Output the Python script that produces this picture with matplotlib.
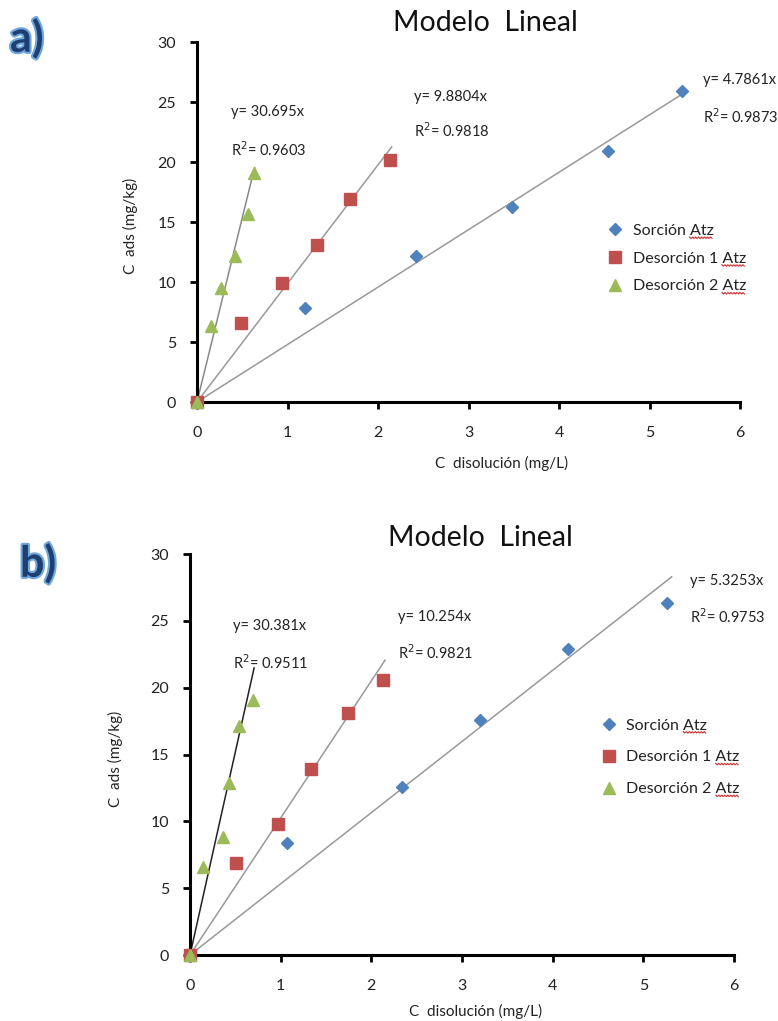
import numpy as np
import matplotlib
matplotlib.use("Agg")
import matplotlib.pyplot as plt
import matplotlib.patheffects as pe
from matplotlib.lines import Line2D

plt.rcParams['font.family'] = ['Lato', 'DejaVu Sans']

# ---- data -------------------------------------------------------------
series_names = ["Sorción Atz", "Desorción 1 Atz", "Desorción 2 Atz"]

# panel a
a_sor_x = [0.0, 1.19, 2.42, 3.48, 4.54, 5.36]
a_sor_y = [0.0, 7.8, 12.2, 16.25, 20.9, 25.9]
a_des1_x = [0.0, 0.49, 0.94, 1.33, 1.69, 2.13]
a_des1_y = [0.0, 6.6, 9.9, 13.1, 16.9, 20.2]
a_des2_x = [0.0, 0.155, 0.265, 0.42, 0.56, 0.63]
a_des2_y = [0.0, 6.3, 9.5, 12.2, 15.7, 19.1]
a_slopes = [4.7861, 9.8804, 30.695]
a_r2 = ["0.9873", "0.9818", "0.9603"]

# panel b
b_sor_x = [0.0, 1.07, 2.34, 3.20, 4.17, 5.26]
b_sor_y = [0.0, 8.4, 12.6, 17.6, 22.9, 26.3]
b_des1_x = [0.0, 0.51, 0.97, 1.34, 1.74, 2.13]
b_des1_y = [0.0, 6.9, 9.8, 13.9, 18.1, 20.6]
b_des2_x = [0.0, 0.145, 0.36, 0.43, 0.54, 0.70]
b_des2_y = [0.0, 6.6, 8.8, 12.9, 17.1, 19.1]
b_slopes = [5.3253, 10.254, 30.381]
b_r2 = ["0.9753", "0.9821", "0.9511"]

x_ticks = [0, 1, 2, 3, 4, 5, 6]
y_ticks = [0, 5, 10, 15, 20, 25, 30]

# ---- styling ----------------------------------------------------------
colors = ["#4f81bd", "#c0504d", "#9bbb59"]
markers = ["D", "s", "^"]
msizes = [6.5, 8.5, 8.5]
txt_color = "#222222"

W, H = 778, 1021
fig = plt.figure(figsize=(W / 100, H / 100), dpi=100)


def px_axes(left, right, top, bottom):
    return fig.add_axes([left / W, 1 - bottom / H, (right - left) / W, (bottom - top) / H])


def draw_panel(ax, xs, ys, slopes, r2, line_colors, eq_pos, legend_anchor, spacing):
    for i in range(3):
        x = np.asarray(xs[i])
        xe = np.array([0.0, x.max() * 1.01])
        ax.plot(xe, slopes[i] * xe, color=line_colors[i], lw=1.1, zorder=2)
    for i in range(3):
        ax.plot(xs[i], ys[i], linestyle="none", marker=markers[i], ms=msizes[i],
                color=colors[i], mec=colors[i], clip_on=False, zorder=3,
                label=series_names[i])
    for i in range(3):
        ex, ey, ry = eq_pos[i]
        ax.text(ex, ey, f"y= {slopes[i]}x", fontsize=10.5, va="center", ha="left", color=txt_color)
        ax.text(ex, ry, f"R$^2$= {r2[i]}", fontsize=10.5, va="center", ha="left", color=txt_color)

    ax.set_xlim(0, 6)
    ax.set_ylim(0, 30)
    ax.set_xticks(x_ticks)
    ax.set_yticks(y_ticks)
    for s in ["top", "right"]:
        ax.spines[s].set_visible(False)
    for s in ["left", "bottom"]:
        ax.spines[s].set_linewidth(2.2)
        ax.spines[s].set_color("black")
    ax.tick_params(axis="both", direction="out", length=5, width=2, labelsize=11.5,
                   labelcolor=txt_color)
    ax.tick_params(axis="x", pad=12)
    ax.tick_params(axis="y", pad=10)

    leg = ax.legend(loc="upper left", bbox_to_anchor=legend_anchor, frameon=False,
                    fontsize=11.5, handletextpad=0.6, labelspacing=spacing,
                    handlelength=1.0, borderaxespad=0, borderpad=0)
    for t in leg.get_texts():
        t.set_color(txt_color)
    return leg


# panel a
ax_a = px_axes(197, 740, 42, 402)
leg_a = draw_panel(ax_a,
                   [a_sor_x, a_des1_x, a_des2_x], [a_sor_y, a_des1_y, a_des2_y],
                   a_slopes, a_r2, ["#999999", "#999999", "#888888"],
                   [(5.59, 26.8, 23.8), (2.40, 25.4, 22.6), (0.376, 24.2, 21.0)],
                   (0.755, 0.495), 0.85)
ax_a.set_xlabel("C  disolución (mg/L)", fontsize=11, labelpad=12, x=0.56, color=txt_color)
ax_a.set_ylabel("C  ads (mg/kg)", fontsize=11, labelpad=14, y=0.49, color=txt_color)

# panel b
ax_b = px_axes(190, 734, 554, 955)
leg_b = draw_panel(ax_b,
                   [b_sor_x, b_des1_x, b_des2_x], [b_sor_y, b_des1_y, b_des2_y],
                   b_slopes, b_r2, ["#999999", "#999999", "#222222"],
                   [(5.52, 28.0, 25.3), (2.29, 25.3, 22.6), (0.47, 24.6, 21.9)],
                   (0.755, 0.59), 1.1)
ax_b.set_xlabel("C  disolución (mg/L)", fontsize=11, labelpad=8, x=0.525, color=txt_color)
ax_b.set_ylabel("C  ads (mg/kg)", fontsize=11, labelpad=20, y=0.49, color=txt_color)

# titles
fig.text(485 / W, 1 - 23 / H, "Modelo  Lineal", fontsize=20.5, ha="center", va="center", color="#111111")
fig.text(480 / W, 1 - 538 / H, "Modelo  Lineal", fontsize=20.5, ha="center", va="center", color="#111111")

# panel letters
outline = [pe.withStroke(linewidth=3, foreground="#6fa8dc")]
fig.text(10 / W, 1 - 38 / H, "a)", fontsize=31, fontweight="bold", ha="left", va="center",
         color="#1f3f73", path_effects=outline)
fig.text(20 / W, 1 - 563 / H, "b)", fontsize=31, fontweight="bold", ha="left", va="center",
         color="#1f3f73", path_effects=outline)

# red spell-check squiggle under "Atz" in the legend entries
fig.canvas.draw()
renderer = fig.canvas.get_renderer()
for leg in (leg_a, leg_b):
    for t in leg.get_texts():
        bb = t.get_window_extent(renderer)
        probe = fig.text(0, 0, "Atz", fontsize=t.get_fontsize(), fontfamily=t.get_fontfamily())
        wpx = probe.get_window_extent(renderer).width
        probe.remove()
        x0, x1 = bb.x1 - wpx, bb.x1
        y0 = bb.y0 + 1
        xs = np.arange(x0, x1 + 0.1, 1.5)
        ys = y0 + np.where(np.arange(len(xs)) % 2 == 0, 0.0, -1.5)
        fig.add_artist(Line2D(xs / W, ys / H, transform=fig.transFigure,
                              color="#d03030", lw=0.8))

fig.savefig("out.png", dpi=100, facecolor="white")
